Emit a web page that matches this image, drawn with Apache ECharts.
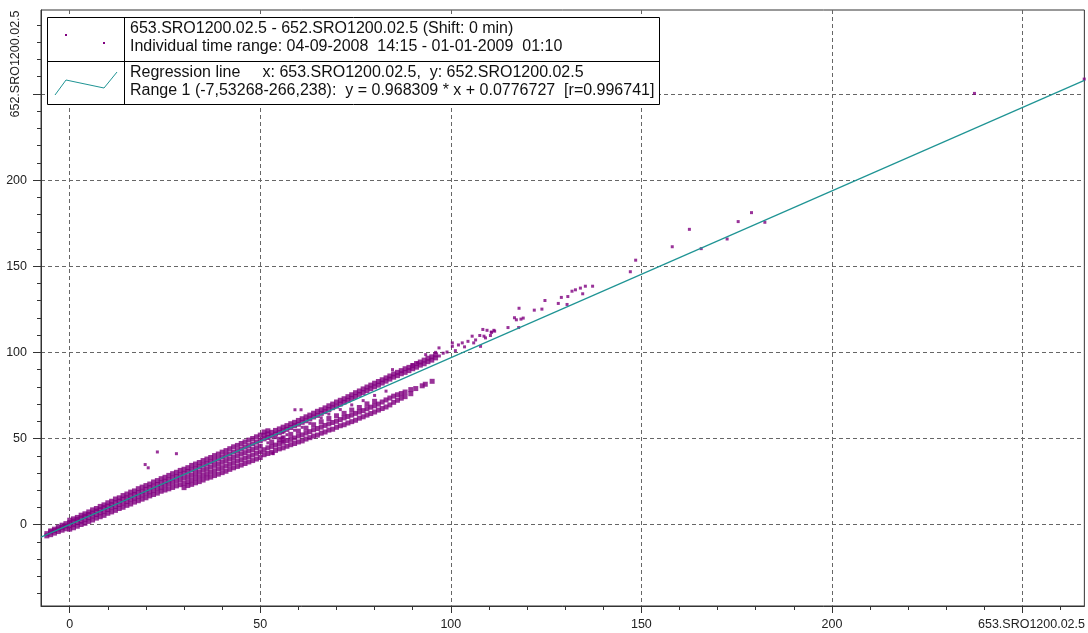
<!DOCTYPE html>
<html><head><meta charset="utf-8">
<script src="https://cdn.jsdelivr.net/npm/echarts@6/dist/echarts.min.js"></script>
<style>html,body{margin:0;padding:0;background:#fff}#c{width:1088px;height:633px}</style>
</head><body><div id="c"></div>
<script>
// ---- axes ----
const xName = '653.SRO1200.02.5';
const yName = '652.SRO1200.02.5';
const xRange = [-7.53268, 266.238];
const yRange = [-47.2, 298.7];
const xTicks = [0, 50, 100, 150, 200, 250];
const yTicks = [0, 50, 100, 150, 200, 250];
const xMinorTicks = [10, 20, 30, 40, 60, 70, 80, 90, 110, 120, 130, 140, 160, 170, 180, 190, 210, 220, 230, 240, 260];
const yMinorTicks = [-40, -30, -20, -10, 10, 20, 30, 40, 60, 70, 80, 90, 110, 120, 130, 140, 160, 170, 180, 190, 210, 220, 230, 240, 260, 270, 280, 290];

// ---- legend texts ----
const legendLine1 = '653.SRO1200.02.5 - 652.SRO1200.02.5 (Shift: 0 min)';
const legendLine2 = 'Individual time range: 04-09-2008  14:15 - 01-01-2009  01:10';
const legendLine3 = 'Regression line     x: 653.SRO1200.02.5,  y: 652.SRO1200.02.5';
const legendLine4 = 'Range 1 (-7,53268-266,238):  y = 0.968309 * x + 0.0776727  [r=0.996741]';

// ---- regression line (end points of the fitted range) ----
const regressionLine = [[-7.53268, -7.216], [266.238, 257.878]];

// ---- scatter data: columns [x, y1, y2, ...] ----
const bandA = [
  [-6,-6.5,-5.2],[-5,-5.8,-4.2,-3.6],[-4,-4.9,-3.4,-2.6],[-3,-4.0,-2.5,-1.4],[-2,-3.2,-1.6,-0.3],
  [-1,-2.4,-0.7,0.6],[0,-2.6,-0.6,1.2,2.6],[1,-1.8,0.2,2.1,3.4],[2,-0.9,1.3,3.0,4.2],[3,0.1,2.0,3.9,5.5],
  [4,0.8,3.1,4.9,6.3],[5,1.9,4.0,5.9,7.4],[6,2.7,5.0,6.8,8.6],[7,3.8,5.9,7.9,9.4],[8,4.6,6.9,8.7,10.6],
  [9,5.4,7.8,9.9,11.5],[10,6.6,8.8,10.8,12.7],[11,7.4,9.9,11.6,13.6],[12,8.3,10.6,12.8,14.9],[13,9.4,11.8,13.7,15.6],
  [14,10.1,12.6,14.8,16.9],[15,11.2,13.5,15.6,17.8],[16,12.0,14.6,16.7,18.9],[17,13.1,15.4,17.6,19.6],[18,13.9,16.4,18.6,20.9],
  [19,14.8,17.3,19.4,21.8],[20,15.6,18.2,20.5,22.7],[21,16.7,19.1,21.5,23.6],[22,17.5,20.0,22.4,24.8],[23,18.3,21.0,23.3,25.6],
  [24,19.4,21.8,24.3,26.7],[25,20.1,22.8,25.2,27.5],[26,20.8,23.6,26.1,28.6],[27,21.6,24.5,27.1,29.6],[28,22.5,25.3,28.0,30.4],
  [29,23.2,26.2,29.0,31.5]
];
const bandB = [
  [30,21.5,24.0,27.0,29.8,32.2],[31,22.7,25.0,27.9,30.9,33.1],[32,23.4,26.0,28.8,31.8,34.4],[33,24.3,26.9,29.7,32.6,35.2],
  [34,25.0,27.8,30.6,33.6,36.1],[35,25.9,28.6,31.6,34.5,37.2],[36,27.0,29.6,32.5,35.5,38.1],[37,27.6,30.4,33.4,36.4,39.0],
  [38,28.5,31.3,34.4,37.3,40.1],[39,29.3,32.4,35.3,38.3,41.0],[40,30.2,33.1,36.2,39.2,42.1],[41,31.0,34.1,37.2,40.2,43.0],
  [42,32.1,35.0,38.1,41.1,44.1],[43,33.0,36.0,39.0,42.1,45.2],[44,33.8,36.9,40.0,43.0,46.0],[45,34.6,37.7,41.0,44.0,47.1],
  [46,35.5,38.6,41.8,45.0,48.0],[47,36.4,39.5,42.8,45.9,49.1],[48,37.2,40.4,43.6,46.9,50.0],[49,38.1,41.4,44.6,47.9,51.0],
  [50,39.0,42.3,45.5,48.8,52.0]
];
const upperBranch = [
  [51,49.8,51.9,53.8],[52,50.6,52.7,54.5],[53,51.5,53.6],[54,52.6,54.7],[55,53.4,55.6],[56,54.5,56.6],[57,55.3,57.5],
  [58,56.4,58.6],[59,57.5,59.4],[60,58.3,60.5],[61,59.4,61.5],[62,60.3,62.6],[63,61.4,63.6],[64,62.5,64.7],[65,63.4,65.8],
  [66,64.6,66.7],[67,65.6,67.8],[68,66.8,69.0],[69,67.9,70.0],[70,68.8,71.2],[71,70.0,72.2],[72,71.1,73.1],[73,72.2,74.3],
  [74,73.3,75.4],[75,74.4,76.6],[76,75.6,77.6],[77,76.7,78.8],[78,77.8,79.9],[79,78.9,81.0],[80,80.0,82.1],[81,81.0,83.1],
  [82,82.2,84.1],[83,83.3,85.2],[84,84.5,86.3],[85,85.6,87.5],[86,86.5,88.4],[87,87.6,89.4],[88,88.4,90.5],[89,89.4,91.3],
  [90,90.5,92.3],[91,91.4,93.5],[92,92.6,94.4],[93,93.4,95.5],[94,94.6,96.6],[95,95.5,97.4],[96,96.8,98.6]
];
const lowerBranch = [
  [51,40.6,43.5],[52,41.3,44.6],[53,42.0,45.4,48.0],[54,43.1,46.2],[55,44.0,47.1,49.6],[56,44.6,47.8,50.4],[57,45.5,48.8],
  [58,46.4,49.5,52.4],[59,47.1,50.3],[60,48.0,51.5,54.3],[61,48.6,52.1],[62,49.7,53.2,56.0],[63,50.5,54.0],[64,51.4,55.1,58.0],
  [65,52.0,55.8],[66,53.1,56.6,59.7],[67,53.8,57.6],[68,54.9,58.5,61.6],[69,55.4,59.3],[70,56.5,60.0,63.2],[71,57.4,61.0],
  [72,58.0,62.0,64.6],[73,59.0,62.8],[74,59.8,63.6,66.5],[75,60.6,64.6],[76,61.8,65.4,68.0],[77,62.6,66.2],[78,63.6,67.3,70.1],
  [79,64.5,68.2],[80,65.4,69.0,71.6],[81,66.5,70.0],[82,67.4,71.2],[83,68.3,72.4],[84,69.5,73.5],[85,71.0,74.6],[86,72.2,75.4],
  [87,73.4,76.1],[88,74.3,77.0],[89.5,76.0,78.4],[90.8,79.0],[92.5,80.6],[93.3,81.5],[95.1,83.2]
];
// ---- scattered single points [x, y] ----
const betweenPoints = [
  [52,47.5],[54,50.5],[57,52.2],[59,54.8],[61,56.5],[63,58.8],[66,62.0],[68,64.2],[71,66.8],[74,69.5],[77,72.0],
  [80,75.0],[83,77.5],[53.4,41.2],[59.1,66.7],[60.7,66.7],[55.9,53.4],[55.9,50.5],[55.9,48.3]
];
const sparsePoints = [
  [96.9,102.6],[96,100],[97,97.9],[98,99.5],[99,100.2],[100.4,103.5],[101.2,101.0],[102,104.3],[103,105.5],[103.6,103.2],
  [104.5,106.4],[106.5,107.2],[100.4,105.5],[93.4,98.7],[84.7,90],[89.9,92.9],[91.2,93.9],[105.6,109.4],[106,105.5],
  [107.8,103.5],[109.1,108.4],[110.7,111.7],[111.3,112.8],
  [148.5,153.5],[147.1,146.8],[158.1,161.3],[162.6,171.4],[165.7,160.2],[172.5,165.8],[175.4,175.9],[178.9,181.1],
  [182.4,175.5],[137.2,138.4],[135.3,138.4],[134,137.3],[132.7,136.3],[131.8,135.5],[134.6,134],[130.7,132.4],
  [129,131.9],[130.5,127.8],[128.2,128.4],[124.7,130.1],[123.9,125.1],[121.9,124.5],[117.9,125.6],[116.7,120.1],
  [117.2,118.9],[118.4,119.3],[119,119.9],[117.8,114.4],[115,114.4],[111.5,112.3],[110.6,111.7],[109.5,112.8],
  [108.4,113.3],[110.4,109.8],[107.6,109.8],[108.7,109.4],[237.4,250.3],[266.2,258.6]
];
const outlierPoints = [[23,42.2],[28,41.2],[19.8,34.9],[20.6,33],[53.3,41.6]];

const toPairs = cols => cols.flatMap(c => c.slice(1).map(y => [c[0], y]));
const bandData = toPairs(bandA).concat(toPairs(bandB), toPairs(upperBranch), toPairs(lowerBranch));
const singleData = betweenPoints.concat(sparsePoints, outlierPoints);

const FONT = "'Liberation Sans', Arial, sans-serif";
const PURPLE = '#800080';
const TEAL = '#1f9494';
const LEG_FONT = '16px ' + FONT;

const chart = echarts.init(document.getElementById('c'), null, {renderer: 'canvas'});
const splitStyle = {color: '#666', width: 1, type: [4, 3]};
const axisCommon = {type: 'value', gridIndex: 0};

chart.setOption({
  animation: false,
  backgroundColor: '#fff',
  grid: {left: 41, right: 1, top: 10, bottom: 27, show: true, borderColor: '#333', borderWidth: 1, backgroundColor: 'transparent'},
  xAxis: [
    Object.assign({}, axisCommon, {
      min: xRange[0], max: xRange[1], position: 'bottom',
      axisLine: {show: true, onZero: false, lineStyle: {color: '#333', width: 1}},
      axisTick: {show: true, customValues: xTicks, length: 7, lineStyle: {color: '#333'}},
      axisLabel: {customValues: xTicks, margin: 12, color: '#222', fontFamily: FONT, fontSize: 12.5,
        formatter: v => v === 250 ? '{n|' + xName + '}' : String(v),
        rich: {n: {padding: [0, 0, 0, 18], fontFamily: FONT, fontSize: 12.5, color: '#222'}}},
      splitLine: {show: true, lineStyle: splitStyle}
    }),
    Object.assign({}, axisCommon, {
      min: xRange[0], max: xRange[1], position: 'bottom',
      axisLine: {show: false, onZero: false},
      axisTick: {show: true, customValues: xMinorTicks, length: 4, lineStyle: {color: '#333'}},
      axisLabel: {show: false}, splitLine: {show: false}
    })
  ],
  yAxis: [
    Object.assign({}, axisCommon, {
      min: yRange[0], max: yRange[1], position: 'left',
      axisLine: {show: true, onZero: false, lineStyle: {color: '#333', width: 1}},
      axisTick: {show: true, customValues: yTicks, length: 8, lineStyle: {color: '#333'}},
      axisLabel: {customValues: yTicks, margin: 14, color: '#222', fontFamily: FONT, fontSize: 12.5,
        formatter: v => v === 250 ? '' : String(v)},
      splitLine: {show: true, lineStyle: splitStyle}
    }),
    Object.assign({}, axisCommon, {
      min: yRange[0], max: yRange[1], position: 'left',
      axisLine: {show: false, onZero: false},
      axisTick: {show: true, customValues: yMinorTicks, length: 4, lineStyle: {color: '#333'}},
      axisLabel: {show: false}, splitLine: {show: false}
    })
  ],
  series: [
    {type: 'scatter', name: 'band', data: bandData, symbol: 'rect', symbolSize: 5, silent: true,
      itemStyle: {color: PURPLE}, z: 2},
    {type: 'scatter', name: 'single', data: singleData, symbol: 'rect', symbolSize: 3, silent: true,
      itemStyle: {color: PURPLE}, z: 2},
    {type: 'line', name: 'regression', data: regressionLine, showSymbol: false, symbol: 'none', silent: true,
      lineStyle: {color: TEAL, width: 1.2}, z: 3}
  ],
  graphic: [
    {type: 'text', x: 16, y: 64, rotation: Math.PI / 2, z: 10,
      style: {text: yName, font: '12.5px ' + FONT, fill: '#222', align: 'center', verticalAlign: 'middle'}},
    {type: 'rect', z: 100, shape: {x: 47.5, y: 17.5, width: 612, height: 87}, style: {fill: '#fff', stroke: '#000', lineWidth: 1}},
    {type: 'line', z: 101, shape: {x1: 124.5, y1: 17.5, x2: 124.5, y2: 104.5}, style: {stroke: '#000', lineWidth: 1}},
    {type: 'line', z: 101, shape: {x1: 47.5, y1: 61.5, x2: 659.5, y2: 61.5}, style: {stroke: '#000', lineWidth: 1}},
    {type: 'rect', z: 101, shape: {x: 65, y: 34, width: 2, height: 2}, style: {fill: PURPLE}},
    {type: 'rect', z: 101, shape: {x: 103, y: 42, width: 2, height: 2}, style: {fill: PURPLE}},
    {type: 'polyline', z: 101, shape: {points: [[55, 95], [66, 80], [104, 88], [117, 72]]}, style: {stroke: TEAL, lineWidth: 1, fill: null}},
    {type: 'text', z: 101, x: 130, y: 29, style: {text: legendLine1, font: LEG_FONT, fill: '#111', verticalAlign: 'middle'}},
    {type: 'text', z: 101, x: 130, y: 47, style: {text: legendLine2, font: LEG_FONT, fill: '#111', verticalAlign: 'middle'}},
    {type: 'text', z: 101, x: 130, y: 73, style: {text: legendLine3, font: LEG_FONT, fill: '#111', verticalAlign: 'middle'}},
    {type: 'text', z: 101, x: 130, y: 91, style: {text: legendLine4, font: LEG_FONT, fill: '#111', verticalAlign: 'middle'}}
  ]
});
</script>
</body></html>
